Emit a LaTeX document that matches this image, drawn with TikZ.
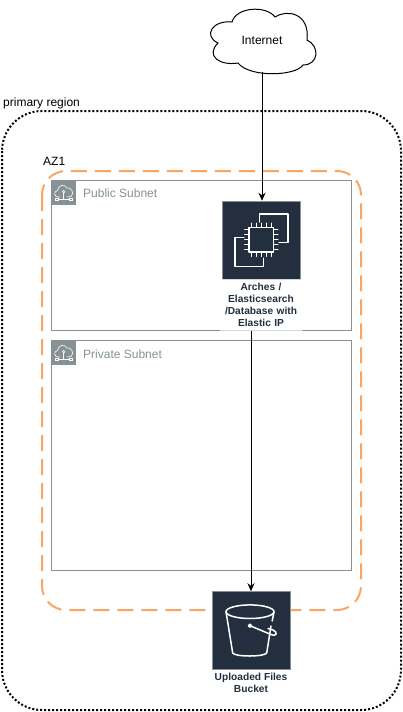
\documentclass[tikz,border=0pt]{standalone}
\usepackage{fontspec}
\setmainfont{Liberation Sans}
\usetikzlibrary{arrows.meta,positioning,calc}
\definecolor{awsdark}{HTML}{232F3E}
\definecolor{subnetgray}{HTML}{879196}
\definecolor{azorange}{HTML}{F8A565}
\tikzset{
	regionbox/.style={draw=black,line width=2,dash pattern=on 2 off 2,rounded corners=40},
	azbox/.style={draw=azorange,line width=2,dash pattern=on 16 off 8,rounded corners=24},
	subnetbox/.style={draw=subnetgray,line width=1},
	subnetbadge/.style={fill=subnetgray,inner sep=0,minimum size=25,anchor=north west},
	servicebox/.style={draw=subnetgray,line width=0.5,fill=awsdark,inner sep=0,minimum size=78},
	iconline/.style={draw=white,line width=1.5,line join=round,line cap=round},
	plaintext/.style={font=\fontsize{12}{14}\selectfont,inner sep=0,anchor=west},
	subnettext/.style={plaintext,text=subnetgray},
	servicetext/.style={font=\fontsize{10.2}{12}\selectfont\bfseries,text=awsdark,align=center,inner sep=0},
	flow/.style={draw=black,line width=1,-{Stealth[length=8,width=7]}},
	pics/subnetcloud/.style={code={
		\draw[draw=white,line width=0.6] (7,17) .. controls (3,17) and (2.5,11) .. (6.5,10.5) .. controls (7,5) and (14,3.5) .. (16,8) .. controls (20,7) and (24,13) .. (20,16.5) -- (16,17) (9,17) -- (7,17);
		\draw[draw=white,line width=0.6] (12.7,11.7) circle (1.3);
		\draw[draw=white,line width=0.6] (12.7,13) -- (12.7,19.5) (7,19.5) -- (18.5,19.5);
		\foreach \boxx in {5.7,19.7}
			\draw[draw=white,line width=0.6] (\boxx-1.2,18.3) rectangle (\boxx+1.2,20.7);
	}}
}
\begin{document}
\begin{tikzpicture}[x=1pt,y=-1pt]
	\useasboundingbox (0,0) rectangle (402,712);
	% containers
	\draw [regionbox] (2,111) rectangle (401,710);
	\draw [azbox] (42,171) rectangle (361,610);
	\draw [subnetbox] (51.5,180.5) rectangle (351.5,330);
	\draw [subnetbox] (51.5,340.5) rectangle (351.5,570);
	\node [subnetbadge] (publicbadge) at (51,180) {};
	\node [subnetbadge] (privatebadge) at (51,340) {};
	\pic at (51,180) {subnetcloud};
	\pic at (51,340) {subnetcloud};
	\node [plaintext] (regionlabel) at (3,103) {primary region};
	\node [plaintext] (azlabel) at (43,161) {AZ1};
	\node [subnettext] (publiclabel) at (83,193) {Public Subnet};
	\node [subnettext] (privatelabel) at (83,354) {Private Subnet};
	% internet cloud
	\draw [black,fill=white,line width=1] (218,43) .. controls (203,36) and (212,20) .. (232,22) .. controls (236,7) and (266,5) .. (275,17) .. controls (287,9) and (310,13) .. (307,40) .. controls (320,46) and (319,65) .. (303,65) .. controls (296,76) and (250,78) .. (238,63) .. controls (220,66) and (205,56) .. (218,43) -- cycle;
	\node [font=\fontsize{12}{14}\selectfont,inner sep=0,minimum height=64,minimum width=60] (internet) at (262,40) {Internet};
	% ec2
	\node [servicebox] (ec2) at (261,240) {};
	\node [servicetext,fill=white,fill opacity=0.65,text opacity=1,text width=82,minimum height=51.5,anchor=north,below=0pt of ec2] (ec2label) {Arches /\\Elasticsearch\\/Database with\\Elastic IP};
	\draw [iconline] (259.3,222) -- (259.3,214) -- (288,214) -- (288,242.3) -- (279,242.3);
	\draw [iconline] (244,237.7) -- (235,237.7) -- (235,266.7) -- (263.3,266.7) -- (263.3,258.3);
	\draw [iconline,fill=awsdark] (249,227.5) rectangle (273.5,252);
	\foreach \pin in {0,1,2,3,4} {
		\draw [iconline,line width=1] (251.3+5*\pin,227) -- ++(0,-4);
		\draw [iconline,line width=1] (251.3+5*\pin,252.5) -- ++(0,4);
		\draw [iconline,line width=1] (248.5,229.8+5*\pin) -- ++(-4,0);
		\draw [iconline,line width=1] (274,229.8+5*\pin) -- ++(4,0);
	}
	% s3
	\node [servicebox] (s3) at (251,630.5) {};
	\node [servicetext,below=3pt of s3] (s3label) {Uploaded Files\\Bucket};
	\draw [iconline] (226,611.7) -- (232.7,653) .. controls (235,657) and (264,657) .. (266.7,653) -- (271,626);
	\draw [iconline] (272.2,621) -- (274,611.7);
	\draw [iconline] (250,611.7) ellipse (24 and 6.8);
	\draw [iconline,fill=white] (250,625.7) circle (1.5);
	\draw [iconline] (250,625.7) -- (271,634.5) .. controls (277,637) and (278,632) .. (273,630) -- (268,628.5);
	% connectors
	\draw [flow] (internet.south) -- (internet.south |- ec2.north);
	\draw [flow] (ec2label.south -| s3.north) -- (s3.north);
\end{tikzpicture}
\end{document}
